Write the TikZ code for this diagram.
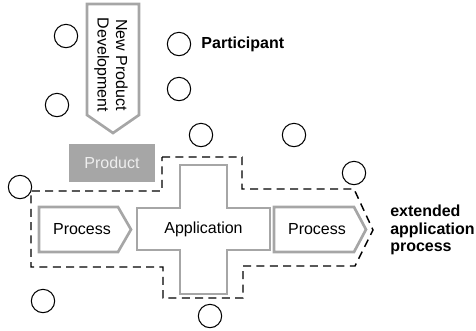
\documentclass[tikz,border=0pt]{standalone}
\usepackage{fontspec}
\setmainfont{Liberation Sans}
\usepackage{tikz}
\usetikzlibrary{positioning}
\usepackage{xcolor}
\definecolor{shapegray}{HTML}{A6A6A6}
\definecolor{textgray}{HTML}{EEEEEE}

\begin{document}
\begin{tikzpicture}[x=0.75pt, y=-0.75pt, font=\fontsize{12}{13}\selectfont,
    party/.style={draw, circle, minimum size=17.5pt, inner sep=0pt, line width=0.8pt},
    grayline/.style={draw=shapegray, line width=2pt, line join=miter},
    border/.style={draw, dash pattern=on 6pt off 4pt, line width=1.1pt}]
  \useasboundingbox (0,0) rectangle (476,330);
  \node (p1) [party] at (66,36) {};
  \node (p2) [party] at (57,105) {};
  \node (p3) [party] at (179,44) {};
  \node (p4) [party] at (179,89) {};
  \node (p5) [party] at (201,135) {};
  \node (p6) [party] at (294,135) {};
  \node (p7) [party] at (20,187) {};
  \node (p8) [party] at (354,173) {};
  \node (p9) [party] at (43,301) {};
  \node (p10) [party] at (210,316) {};
  \node (lbl) [right=7.5pt of p3, inner sep=0pt, font=\fontsize{12}{13}\selectfont\bfseries] {Participant};

  \draw[grayline] (87,4) -- (139,4) -- (139,115) -- (113,133) -- (87,115) -- cycle;
  \node (npd) [rotate=-90, align=center, font=\fontsize{12}{14}\selectfont] at (111,65) {New Product\\Development};
  \node (prod) [fill=shapegray, text=textgray, minimum width=64.5pt, minimum height=28.5pt] at (112,163) {Product};

  \draw[border] (162,157) -- (242,157) -- (242,189) -- (354,189) -- (373,230) -- (355,266)
    -- (243,266) -- (243,298) -- (163,298) -- (163,267) -- (31,267) -- (31,191) -- (162,191) -- cycle;

  \draw[grayline] (180,165) -- (227,165) -- (227,208) -- (270,208) -- (270,250) -- (227,250)
    -- (227,294) -- (180,294) -- (180,250) -- (137,250) -- (137,208) -- (180,208) -- cycle;
  \node (app) at (203.5,229) {Application};
  \draw[grayline] (39,207) -- (118,207) -- (131,229.5) -- (118,252) -- (39,252) -- cycle;
  \node (proc1) at (82,229) {Process};
  \draw[grayline] (274,207) -- (354,207) -- (366,229.5) -- (354,252) -- (274,252) -- cycle;
  \node (proc2) at (317,229) {Process};

  \node (ext) [anchor=west, align=left, inner sep=0pt, font=\fontsize{12}{13}\selectfont\bfseries] at (390,230) {extended\\application\\process};
\end{tikzpicture}
\end{document}
